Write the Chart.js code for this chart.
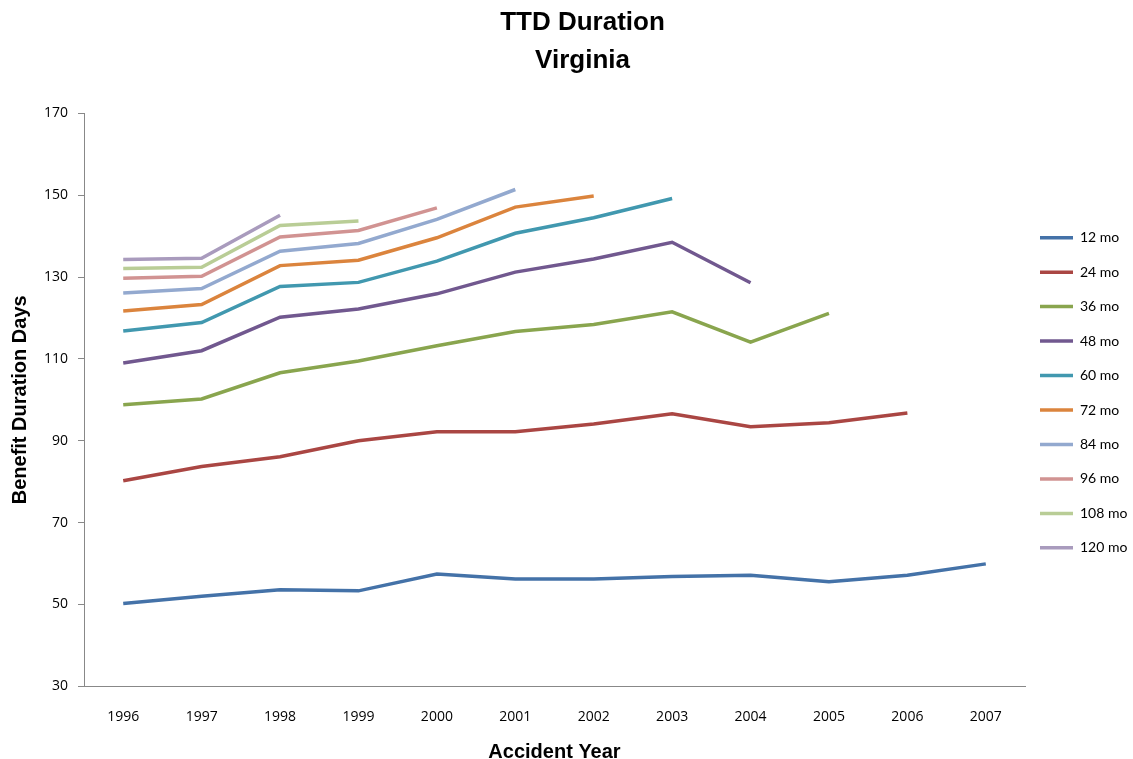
<!DOCTYPE html>
<html>
<head>
<meta charset="utf-8">
<script src="https://cdn.jsdelivr.net/npm/chart.js@4/dist/chart.umd.min.js"></script>
<style>
    html, body { margin: 0; padding: 0; background: #fff; }
    #wrap { width: 1133px; height: 759px; position: relative; }
</style>
</head>
<body>
<div id="wrap"><canvas id="ttdChart"></canvas></div>
<script>
const years = ['1996', '1997', '1998', '1999', '2000', '2001', '2002', '2003', '2004', '2005', '2006', '2007'];
const yTicks = [30, 50, 70, 90, 110, 130, 150, 170];

const mo12 = [50.2, 52.0, 53.6, 53.3, 57.4, 56.2, 56.2, 56.8, 57.1, 55.5, 57.1, 59.9];
const mo24 = [80.2, 83.7, 86.1, 90.0, 92.2, 92.2, 94.1, 96.6, 93.4, 94.4, 96.8];
const mo36 = [98.8, 100.2, 106.6, 109.5, 113.2, 116.7, 118.4, 121.5, 114.1, 121.1];
const mo48 = [109.0, 112.0, 120.2, 122.2, 125.9, 131.2, 134.4, 138.5, 128.6];
const mo60 = [116.8, 118.9, 127.7, 128.7, 133.9, 140.7, 144.5, 149.2];
const mo72 = [121.7, 123.3, 132.8, 134.1, 139.6, 147.1, 149.8];
const mo84 = [126.1, 127.2, 136.3, 138.2, 144.1, 151.4];
const mo96 = [129.7, 130.2, 139.8, 141.4, 146.9];
const mo108 = [132.1, 132.4, 142.6, 143.7];
const mo120 = [134.3, 134.6, 145.1];

const seriesNames = ['12 mo', '24 mo', '36 mo', '48 mo', '60 mo', '72 mo', '84 mo', '96 mo', '108 mo', '120 mo'];
const seriesData = [mo12, mo24, mo36, mo48, mo60, mo72, mo84, mo96, mo108, mo120];
const seriesColors = ['#4472A8', '#AA4643', '#89A54E', '#71588F', '#4198AF', '#DB843D', '#93A9CF', '#D19392', '#B9CD96', '#A99BBD'];

// the original title sits a little right of the page centre
const shiftTitle = {
    id: 'shiftTitle',
    afterLayout(chart) {
        if (chart.titleBlock) chart.titleBlock.left += 24;
    }
};

const ctx = document.getElementById('ttdChart').getContext('2d');

new Chart(ctx, {
    type: 'line',
    data: {
        labels: years,
        datasets: seriesNames.map((name, i) => ({
            label: name,
            data: seriesData[i],
            borderColor: seriesColors[i],
            backgroundColor: seriesColors[i],
            borderWidth: 3.5,
            pointRadius: 0,
            pointHoverRadius: 0,
            pointStyle: 'line',
            tension: 0,
            fill: false
        }))
    },
    options: {
        responsive: true,
        maintainAspectRatio: false,
        animation: false,
        layout: { padding: { left: 8, right: 0, top: 4, bottom: 0 } },
        plugins: {
            title: {
                display: true,
                text: ['TTD Duration', 'Virginia'],
                color: '#000',
                font: { family: 'Liberation Sans', size: 26, weight: 'bold', lineHeight: 1.45 },
                padding: { top: 0, bottom: 34 }
            },
            legend: {
                position: 'right',
                maxWidth: 108,
                title: { display: true, text: ' ', font: { size: 10, lineHeight: 1 }, padding: 9 },
                labels: {
                    color: '#000',
                    font: { family: 'Lato', size: 14, lineHeight: 1.39 },
                    usePointStyle: true,
                    pointStyle: 'line',
                    pointStyleWidth: 33,
                    padding: 15,
                    // text as one-line arrays so the row height follows the font line height
                    generateLabels: chart => Chart.defaults.plugins.legend.labels.generateLabels(chart)
                        .map(item => ({ ...item, text: [item.text] }))
                }
            },
            tooltip: { enabled: false }
        },
        scales: {
            x: {
                offset: true,
                grid: { display: false },
                border: { display: true, color: '#888', width: 1 },
                ticks: { color: '#000', font: { family: 'Open Sans', size: 14 }, padding: 14, maxRotation: 0 },
                title: {
                    display: true,
                    text: 'Accident Year',
                    color: '#000',
                    font: { family: 'Liberation Sans', size: 20, weight: 'bold' },
                    padding: { top: 1, bottom: -5 }
                }
            },
            y: {
                min: 30,
                max: 170,
                afterBuildTicks: axis => { axis.ticks = yTicks.map(v => ({ value: v })); },
                grid: { drawOnChartArea: false, drawTicks: true, tickLength: 6, color: '#888' },
                border: { display: true, color: '#888', width: 1 },
                ticks: { color: '#000', font: { family: 'Open Sans', size: 14 }, padding: 10 },
                title: {
                    display: true,
                    text: 'Benefit Duration Days',
                    color: '#000',
                    font: { family: 'Liberation Sans', size: 20, weight: 'bold' },
                    padding: { top: 0, bottom: 2 }
                }
            }
        }
    },
    plugins: [shiftTitle]
});
</script>
</body>
</html>
